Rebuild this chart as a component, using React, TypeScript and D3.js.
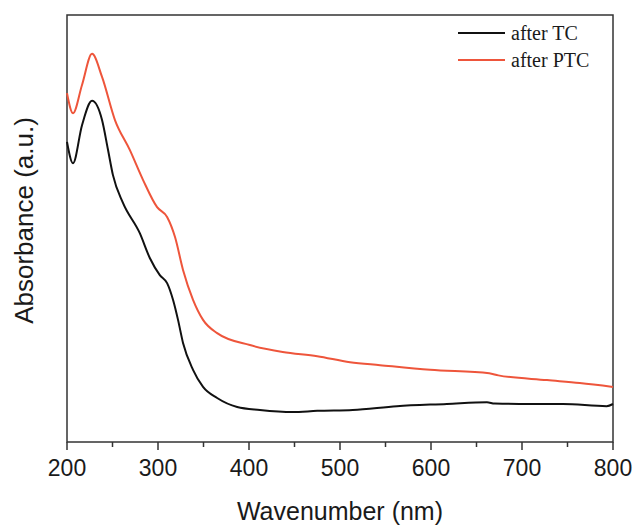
import * as d3 from "d3";

// wavelength (nm) and absorbance (arbitrary units)
const tcWave = [200, 206.6, 216.5, 227.5, 238.5, 245, 250.5, 261.5, 280, 291, 302, 310, 316.5, 322, 327.5, 338.5, 349.5, 365, 387, 412, 448, 475, 514, 562.5, 617.5, 661.5, 670, 709, 745, 793, 800];
const tcAbs = [70.3, 65.3, 74.2, 79.9, 75.4, 68.5, 62.5, 56.0, 48.9, 43.1, 39.1, 37.2, 33.3, 28.6, 23.2, 16.9, 12.9, 10.3, 8.2, 7.5, 7.0, 7.3, 7.5, 8.4, 8.9, 9.3, 9.0, 8.9, 8.9, 8.4, 8.9];

const ptcWave = [200, 206.6, 216.5, 227.5, 238.5, 252.7, 269, 283.5, 299, 310, 318.7, 327.5, 338.5, 349.5, 365, 401, 437, 475, 511, 544, 599, 664, 674, 727.5, 763.5, 800];
const ptcAbs = [81.7, 77.0, 83.6, 90.9, 85.5, 75.4, 68.4, 61.4, 55.0, 52.7, 48.0, 40.3, 33.3, 28.6, 25.5, 22.7, 21.1, 20.1, 18.7, 18.0, 16.9, 16.1, 15.6, 14.5, 13.8, 12.9];

const xTicks = [200, 300, 400, 500, 600, 700, 800];
const xMinorTicks = [250, 350, 450, 550, 650, 750];
const seriesNames = ["after TC", "after PTC"];
const seriesColors = ["#111111", "#ee553b"];

const W = 638, H = 527;
const margin = { top: 15, right: 25, bottom: 85, left: 67 };

export default function App() {
  const x = d3.scaleLinear().domain([200, 800]).range([margin.left, W - margin.right]);
  const y = d3.scaleLinear().domain([0, 100]).range([H - margin.bottom, margin.top]);

  const line = d3.line<[number, number]>()
    .x(d => x(d[0]))
    .y(d => y(d[1]))
    .curve(d3.curveMonotoneX);

  const series = [
    tcWave.map((w, i) => [w, tcAbs[i]] as [number, number]),
    ptcWave.map((w, i) => [w, ptcAbs[i]] as [number, number]),
  ];

  const x0 = x(200), x1 = x(800), yb = y(0), yt = y(100);

  return (
    <svg width={W} height={H} style={{ position: "absolute", left: 0, top: 0, background: "#fff" }}>
      {/* frame */}
      <rect x={x0} y={yt} width={x1 - x0} height={yb - yt} fill="none" stroke="#333" strokeWidth={1.5} />

      {/* curves */}
      {series.map((s, i) => (
        <path key={i} d={line(s) || ""} fill="none" stroke={seriesColors[i]} strokeWidth={2} />
      ))}

      {/* x ticks */}
      {xTicks.map(t => (
        <g key={t}>
          <line x1={x(t)} x2={x(t)} y1={yb} y2={yb + 8} stroke="#333" strokeWidth={1.5} />
          <text x={x(t)} y={yb + 34} textAnchor="middle" fontFamily="'Liberation Sans', Arial, sans-serif" fontSize={23} fill="#1a1a1a">{t}</text>
        </g>
      ))}
      {xMinorTicks.map(t => (
        <line key={t} x1={x(t)} x2={x(t)} y1={yb} y2={yb + 5} stroke="#333" strokeWidth={1.5} />
      ))}

      {/* axis titles */}
      <text x={(x0 + x1) / 2} y={520} textAnchor="middle" fontFamily="'Liberation Sans', Arial, sans-serif" fontSize={25} fill="#1a1a1a">Wavenumber (nm)</text>
      <text transform={`translate(33, ${(yb + yt) / 2 - 8}) rotate(-90)`} textAnchor="middle" fontFamily="'Liberation Sans', Arial, sans-serif" fontSize={26} fill="#1a1a1a">Absorbance (a.u.)</text>

      {/* legend */}
      {seriesNames.map((n, i) => (
        <g key={n} transform={`translate(458, ${33 + i * 27})`}>
          <line x1={0} x2={47} y1={0} y2={0} stroke={seriesColors[i]} strokeWidth={2} />
          <text x={53} y={7} fontFamily="'Liberation Serif', 'Times New Roman', serif" fontSize={20} fill="#1a1a1a">{n}</text>
        </g>
      ))}
    </svg>
  );
}
